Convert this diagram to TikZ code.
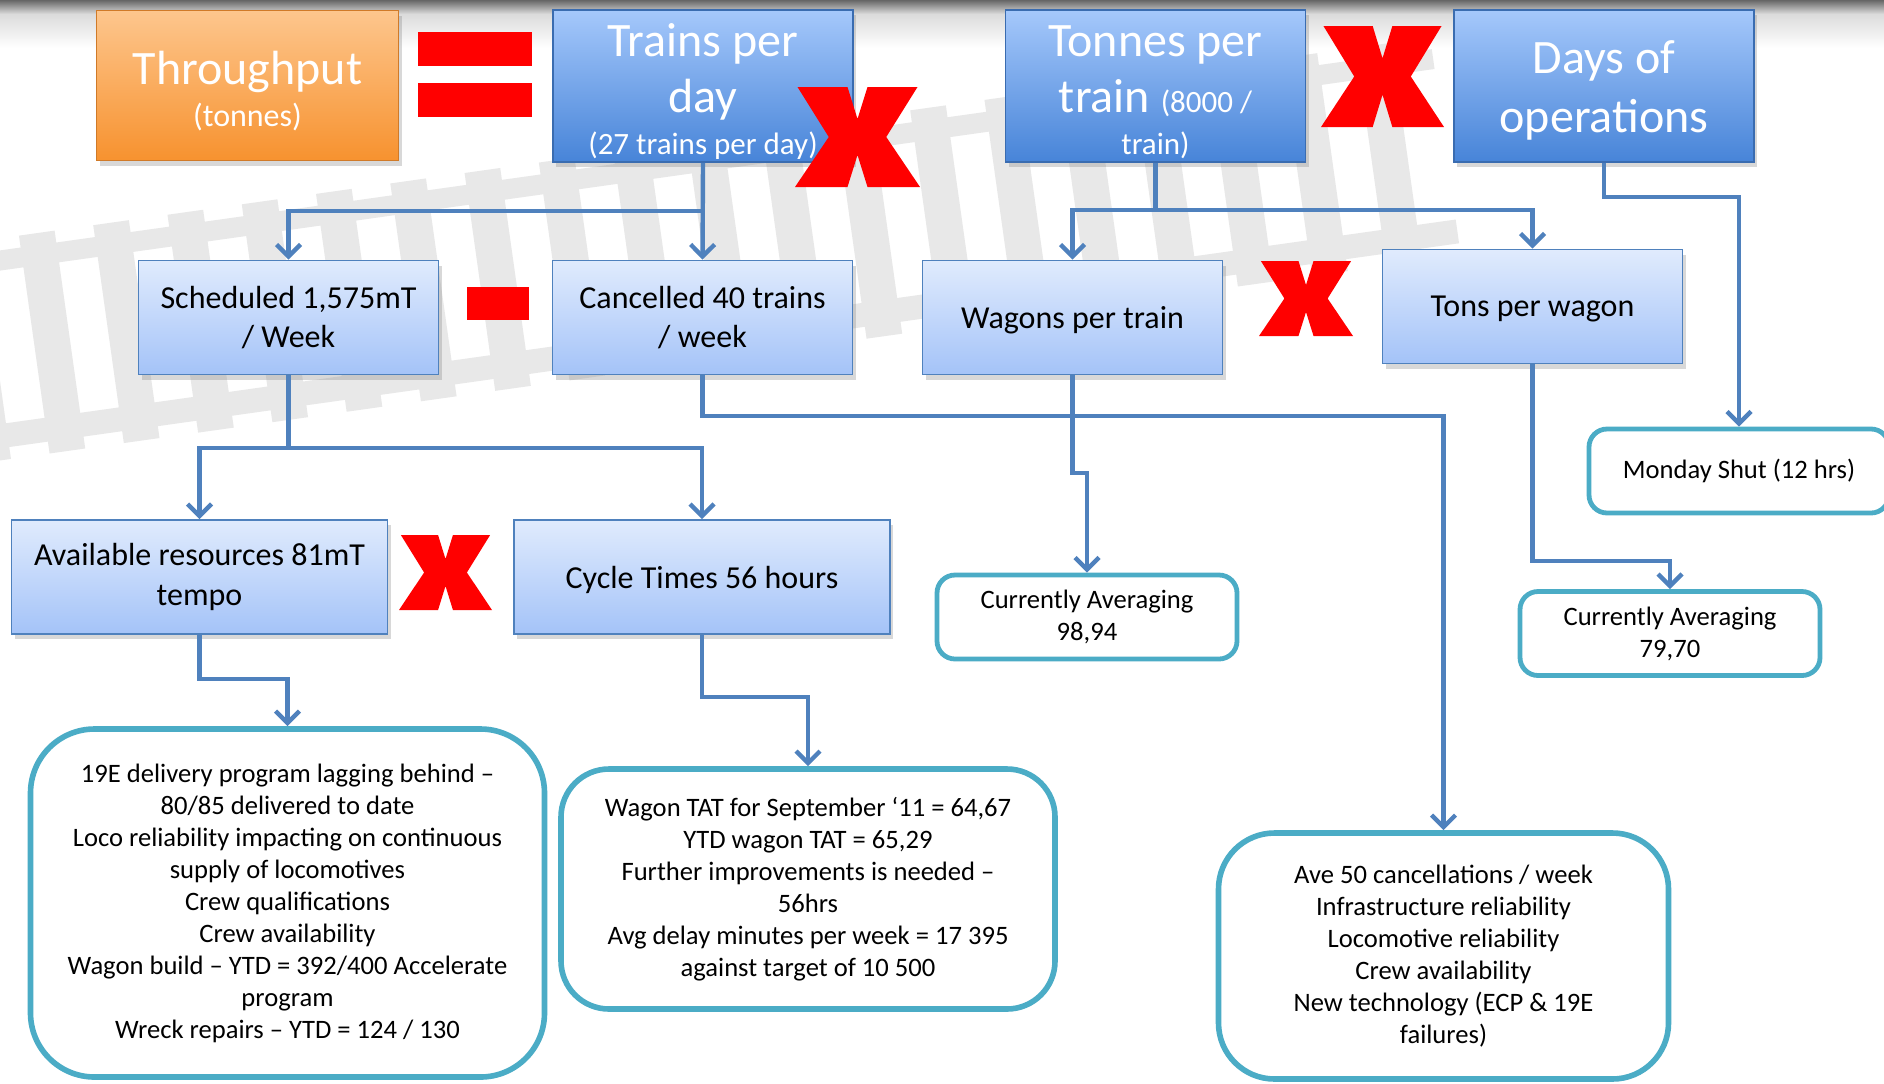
\documentclass[tikz,border=0pt]{standalone}
\usepackage{fontspec}
\setmainfont{Carlito}
\usetikzlibrary{arrows.meta,shadows}

\definecolor{linkblue}{HTML}{4F81BD}
\definecolor{noteteal}{HTML}{4BACC6}
\definecolor{signred}{HTML}{FF0000}
\definecolor{orangetop}{HTML}{FDC68D}
\definecolor{orangebot}{HTML}{F7922F}
\definecolor{orangeedge}{HTML}{D07A28}
\definecolor{factortop}{HTML}{A5C8FB}
\definecolor{factorbot}{HTML}{4784D8}
\definecolor{factoredge}{HTML}{3A6CB0}
\definecolor{drivertop}{HTML}{E0EBFD}
\definecolor{driverbot}{HTML}{A4C3F8}
\definecolor{railgrey}{HTML}{E8E8E8}

\tikzset{
  boxshadow/.style={drop shadow={shadow xshift=1.5pt,shadow yshift=-2.5pt,opacity=0.3}},
  outbox/.style={draw=orangeedge,line width=0.8pt,top color=orangetop,bottom color=orangebot,
    text=white,align=center,inner sep=0pt,minimum width=151pt,minimum height=75pt,
    font=\fontsize{24}{28}\selectfont,boxshadow},
  factorbox/.style={draw=factoredge,line width=0.8pt,top color=factortop,bottom color=factorbot,
    text=white,align=center,inner sep=0pt,minimum width=150pt,minimum height=76pt,
    font=\fontsize{24}{28}\selectfont,boxshadow},
  driverbox/.style={draw=linkblue,line width=0.9pt,top color=drivertop,bottom color=driverbot,
    align=center,minimum width=150pt,minimum height=57pt,
    font=\fontsize{16}{19.8}\selectfont,boxshadow},
  notebox/.style={draw=noteteal,line width=2.4pt,fill=white,rounded corners=9pt,
    align=center,minimum width=150pt,minimum height=42pt,
    font=\fontsize{13.3}{16}\selectfont},
  feed/.style={draw=linkblue,line width=2.2pt},
  link/.style={feed,-{Straight Barb[length=6pt,width=12pt]}},
  pics/bigcross/.style={code={
    \fill[signred] (0.02,0) -- (0.42,0) -- (0.5,0.32) -- (0.58,0) -- (0.98,0) -- (0.73,0.5)
      -- (1,1) -- (0.58,1) -- (0.5,0.68) -- (0.42,1) -- (0,1) -- (0.27,0.5) -- cycle;
  }}
}

\begin{document}
\begin{tikzpicture}[x=0.5pt,y=-0.5pt]
    \useasboundingbox (0,0) rectangle (1884,1083);

    % slide background: grey band on top and a faint track
    \fill[white] (0,0) rectangle (1884,1083);
    \shade[top color=black!60,bottom color=black!14] (0,0) rectangle (1884,14);
    \shade[top color=black!14,bottom color=white] (0,14) rectangle (1884,48);
    \begin{scope}[shift={(-40,355)},rotate=8]
        \fill[railgrey] (0,-98) rectangle (1500,-78);
        \fill[railgrey] (0,74) rectangle (1500,98);
        \foreach \s in {0,75,...,1450} {
            \fill[railgrey] (\s,-110) rectangle ++(36,220);
        }
    \end{scope}

    % top row: throughput = trains x tonnes x days
    \node[outbox] (thru) at (247.5,85.5) {\rule{0pt}{22.5pt}Throughput\\[-7pt]{\fontsize{16}{19}\selectfont (tonnes)}};
    \node[factorbox] (trains) at (703,86) {\rule{0pt}{22pt}Trains per\\day\\[-7pt]{\fontsize{15.5}{18}\selectfont (27 trains per day)}};
    \node[factorbox] (tonnes) at (1155.5,86) {\rule{0pt}{22pt}Tonnes per\\train {\fontsize{15.5}{18}\selectfont (8000 /}\\[-7pt]{\fontsize{15.5}{18}\selectfont train)}};
    \node[factorbox] (days) at (1604,86) {\rule{0pt}{21pt}Days of\\[1.5pt]operations};

    % second row
    \node[driverbox] (sched) at (288.5,317.5) {Scheduled 1,575mT\\/ Week};
    \node[driverbox] (cancel) at (702.5,317.5) {Cancelled 40 trains\\/ week};
    \node[driverbox,text depth=0pt] (wagons) at (1072.5,317.5) {Wagons per train};
    \node[driverbox,text depth=0pt] (wagontons) at (1532.5,306.5) {Tons per wagon};

    % third row
    \node[driverbox,minimum width=188pt] (avail) at (199.5,577) {Available resources 81mT\\tempo};
    \node[driverbox,minimum width=188pt,text depth=0pt] (cycle) at (702,577) {Cycle Times 56 hours};
    \node[notebox] (monday) at (1739,471) {Monday Shut (12 hrs)};
    \node[notebox] (avgwag) at (1087,617) {Currently Averaging\\98,94};
    \node[notebox] (avgton) at (1670,633.5) {Currently Averaging\\79,70};

    % notes at the bottom
    \node[notebox,line width=2.8pt,rounded corners=32pt,minimum width=257pt,minimum height=174pt] (lagnote) at (287.5,903)
        {19E delivery program lagging behind –\\80/85 delivered to date\\Loco reliability impacting on continuous\\supply of locomotives\\Crew qualifications\\Crew availability\\Wagon build – YTD = 392/400 Accelerate\\program\\Wreck repairs – YTD = 124 / 130};
    \node[notebox,line width=2.8pt,rounded corners=24pt,minimum width=247pt,minimum height=120pt] (tatnote) at (808,889)
        {Wagon TAT for September ‘11 = 64,67\\YTD wagon TAT = 65,29\\Further improvements is needed –\\56hrs\\Avg delay minutes per week = 17 395\\against target of 10 500};
    \node[notebox,line width=2.8pt,rounded corners=28pt,minimum width=225pt,minimum height=123pt] (cxlnote) at (1443.5,956)
        {Ave 50 cancellations / week\\Infrastructure reliability\\Locomotive reliability\\Crew availability\\New technology (ECP \& 19E\\failures)};

    % connectors from the top row
    \coordinate (trbus) at (trains.south |- 0,211);
    \draw[link] (trains.south) -- (cancel.north);
    \draw[link] (trbus) -| (sched.north);
    \coordinate (tobus) at (tonnes.south |- 0,210);
    \draw[feed] (tonnes.south) -- (tobus);
    \draw[link] (tobus) -| (wagons.north);
    \draw[link] (tobus) -| (wagontons.north);
    \coordinate (dybend) at (monday.north |- 0,197);
    \draw[link] (days.south) |- (dybend) -- (monday.north);

    % connectors from the second row
    \coordinate (scbus) at (sched.south |- 0,448);
    \draw[feed] (sched.south) -- (scbus);
    \draw[link] (scbus) -| (avail.north);
    \draw[link] (scbus) -| (cycle.north);
    \coordinate (cxbus) at (cxlnote.north |- 0,416);
    \draw[link] (cancel.south) |- (cxbus) -- (cxlnote.north);
    \coordinate (wgbend) at (avgwag.north |- 0,473);
    \draw[link] (wagons.south) |- (wgbend) -- (avgwag.north);
    \coordinate (twbend) at (avgton.north |- 0,561);
    \draw[link] (wagontons.south) |- (twbend) -- (avgton.north);

    % connectors from the third row
    \coordinate (avbend) at (lagnote.north |- 0,679);
    \draw[link] (avail.south) |- (avbend) -- (lagnote.north);
    \coordinate (cybend) at (tatnote.north |- 0,697);
    \draw[link] (cycle.south) |- (cybend) -- (tatnote.north);

    % red operators
    \fill[signred] (418,32) rectangle (532,66);
    \fill[signred] (418,83) rectangle (532,117);
    \fill[signred] (467,287) rectangle (529,320);
    \pic[xscale=125,yscale=100] at (795,87) {bigcross};
    \pic[xscale=123,yscale=101] at (1321,26) {bigcross};
    \pic[xscale=94,yscale=75] at (1259,261) {bigcross};
    \pic[xscale=93,yscale=75] at (399,535) {bigcross};
\end{tikzpicture}
\end{document}
